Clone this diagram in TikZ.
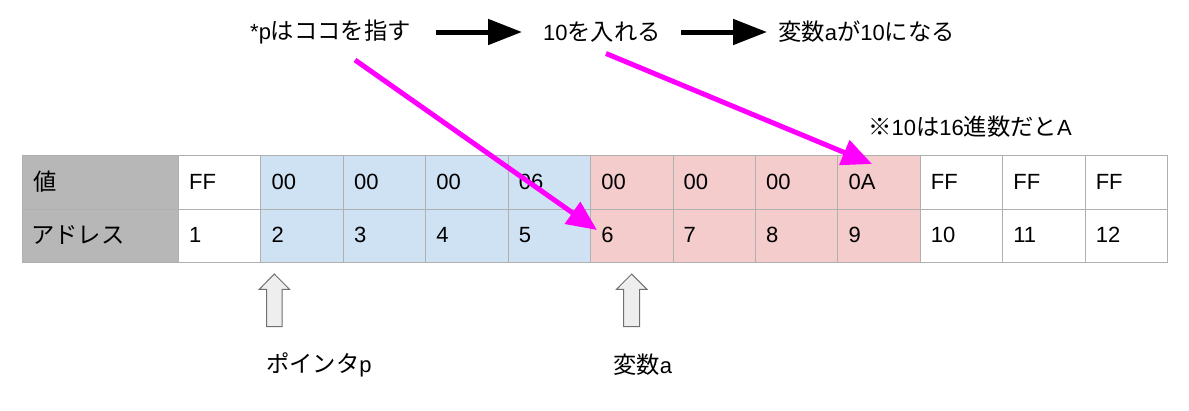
\documentclass[tikz,border=0pt]{standalone}
\usepackage{fontspec}
\setmainfont{Liberation Sans}
\newfontfamily\jpf[Scale=1.06]{Noto Sans CJK JP}
\newcommand\J[1]{{\jpf #1}}
\usetikzlibrary{arrows.meta}
\definecolor{gridgray}{HTML}{B0B0B0}
\definecolor{headgray}{HTML}{B7B7B7}
\definecolor{cellblue}{HTML}{CFE2F3}
\definecolor{cellpink}{HTML}{F4CCCC}
\definecolor{mag}{HTML}{FF00FF}
\definecolor{blkfill}{HTML}{EEEEEE}
\definecolor{blkline}{HTML}{707070}
\tikzset{
  cell/.style={draw=gridgray, line width=1pt, minimum width=82.4167pt, minimum height=53.5pt, anchor=north west, inner sep=0pt},
  celltext/.style={anchor=west},
  txt/.style={anchor=west},
  blackarrow/.style={draw=black, line width=5pt, -{Triangle[length=34pt,width=25pt]}},
  magarrow/.style={draw=mag, line width=5pt, -{Triangle[length=30pt,width=26pt]}},
  blockarrow/.style={draw=blkline, fill=blkfill, line width=1pt, line join=miter},
}
\begin{document}
\begin{tikzpicture}[x=1pt,y=-1pt, every node/.style={font=\fontsize{22}{26}\selectfont, inner sep=0pt}]
\useasboundingbox (0,0) rectangle (1189,410);
\fill[white] (0,0) rectangle (1189,410);

% header column
\node[cell, fill=headgray, minimum width=156pt] (h1) at (22,155) {};
\node[cell, fill=headgray, minimum width=156pt] (h2) at (22,208.5) {};
\node[celltext] (h1t) at (33,181.75) {\J{値}};
\node[celltext] (h2t) at (31,235.25) {\J{アドレス}};

% cells
\foreach \v/\a/\f [count=\i] in {FF/1/white, 00/2/cellblue, 00/3/cellblue, 00/4/cellblue, 06/5/cellblue, 00/6/cellpink, 00/7/cellpink, 00/8/cellpink, 0A/9/cellpink, FF/10/white, FF/11/white, FF/12/white}{
  \pgfmathsetmacro\x{178+(\i-1)*82.4167}
  \node[cell, fill=\f] (v\i) at (\x,155) {};
  \node[cell, fill=\f] (a\i) at (\x,208.5) {};
  \node[celltext] (vt\i) at ({\x+11},181.75) {\v};
  \node[celltext] (at\i) at ({\x+11},235.25) {\a};
}

% top texts
\node[txt] (t1) at (250,32) {*p\J{はココを指す}};
\node[txt] (t2) at (543,32) {10\J{を入れる}};
\node[txt] (t3) at (778,32) {\J{変数}a\J{が}10\J{になる}};
\draw[blackarrow, shorten <=25pt, shorten >=21pt] (t1.east) -- (t2.west);
\draw[blackarrow, shorten <=20pt, shorten >=11pt] (t2.east) -- (t3.west);

% note
\node[txt] (note) at (868,127) {\J{※}10\J{は}16\J{進数だと}A};

% magenta arrows
\coordinate (m1s) at (355,60);
\coordinate (m1e) at (597,230);
\coordinate (m2s) at (606,53.5);
\coordinate (m2e) at (872,164);
\draw[magarrow] (m1s) -- (m1e);
\draw[magarrow] (m2s) -- (m2e);

% block arrows
\draw[blockarrow] (266.7,326.7) -- (266.7,289.3) -- (259.3,289.3) -- (274.3,274) -- (289.5,289.3) -- (282.2,289.3) -- (282.2,326.7) -- cycle;
\draw[blockarrow] (623.7,326.7) -- (623.7,289.3) -- (616.5,289.3) -- (631.7,274) -- (647,289.3) -- (639.7,289.3) -- (639.7,326.7) -- cycle;

% labels
\node[txt] (lp) at (266,365) {\J{ポインタ}p};
\node[txt] (la) at (613,365) {\J{変数}a};
\end{tikzpicture}
\end{document}
